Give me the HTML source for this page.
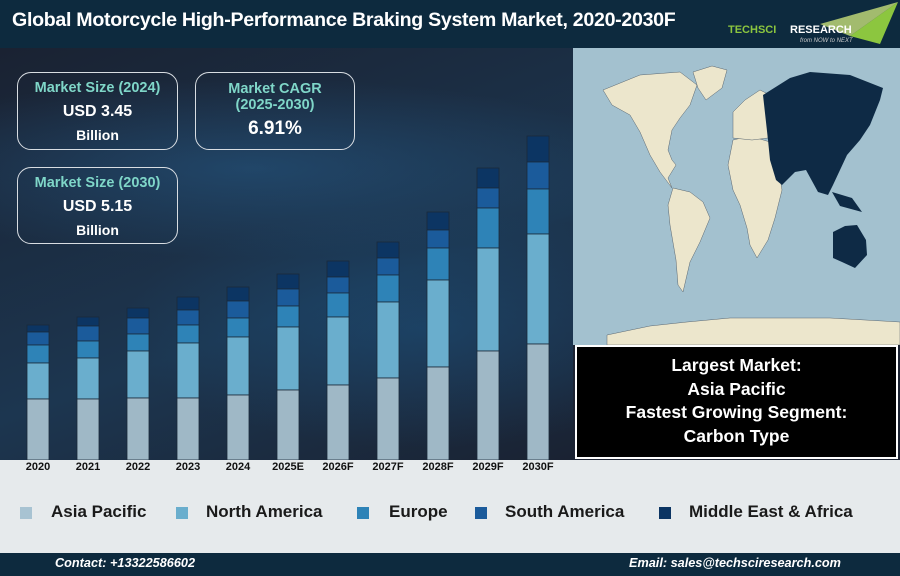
<!DOCTYPE html>
<html><head><style>
body{margin:0;width:900px;height:576px;overflow:hidden;font-family:"Liberation Sans",Arial,sans-serif;position:relative;background:#1b2232}
.hdr{position:absolute;left:0;top:0;width:900px;height:48px;background:#0d2a3e}
.hdr h1{position:absolute;left:12px;top:9px;margin:0;color:#fff;font-size:19.6px;font-weight:bold;letter-spacing:-0.3px}
.chart{position:absolute;left:0;top:48px;width:573px;height:412px;background:radial-gradient(ellipse 400px 90px at 250px 120px,rgba(40,100,150,.45),transparent),radial-gradient(ellipse 300px 120px at 420px 280px,rgba(30,90,140,.4),transparent),linear-gradient(160deg,#1a2232,#1c3650 60%,#1a2232)}
.box{position:absolute;border:1.5px solid #d8dde2;border-radius:14px;text-align:center;color:#fff;font-weight:bold;box-sizing:border-box}
.t{color:#7fd6c8;font-size:14.5px}
.v{font-size:16px}
.yl{position:absolute;top:461px;font-size:11px;font-weight:bold;color:#111;width:50px;text-align:center}
.leg{position:absolute;top:460px;left:0;width:900px;height:93px;background:#e6eaec}
.li{position:absolute;top:502px;font-size:17px;font-weight:bold;color:#1a1a1a}
.sw{position:absolute;top:507px;width:12px;height:12px}
.ftr{position:absolute;left:0;top:553px;width:900px;height:23px;background:#0d2a3e;color:#fff;font-size:12.7px;font-weight:bold;font-style:italic}
</style></head><body>
<div class="hdr"><h1>Global Motorcycle High-Performance Braking System Market, 2020-2030F</h1>
<svg style="position:absolute;left:720px;top:0" width="180" height="48"><polygon points="130,36 178,2 160,44" fill="#8cc63f"/><polygon points="100,24 178,2 130,36" fill="#c8e07a" opacity=".8"/>
<text x="8" y="33" font-size="11" font-weight="bold" fill="#8cc63f" font-family="Liberation Sans">TECHSCI</text><text x="70" y="33" font-size="11" font-weight="bold" fill="#fff" font-family="Liberation Sans">RESEARCH</text><text x="80" y="42" font-size="6" font-style="italic" fill="#ccc" font-family="Liberation Sans">from NOW to NEXT</text></svg></div>
<div class="chart"></div>
<div class="box" style="left:17px;top:72px;width:161px;height:78px"><div class="t" style="margin-top:7px">Market Size (2024)</div><div class="v" style="margin-top:7px">USD 3.45</div><div style="font-size:14px;margin-top:6px">Billion</div></div>
<div class="box" style="left:195px;top:72px;width:160px;height:78px"><div class="t" style="margin-top:8px;line-height:16px">Market CAGR<br>(2025-2030)</div><div style="font-size:19px;margin-top:5px">6.91%</div></div>
<div class="box" style="left:17px;top:167px;width:161px;height:77px"><div class="t" style="margin-top:7px">Market Size (2030)</div><div class="v" style="margin-top:7px">USD 5.15</div><div style="font-size:14px;margin-top:6px">Billion</div></div>
<svg style="position:absolute;left:0;top:0" width="573" height="462">
<g stroke="#1b2a3a" stroke-width="0.8"><g id="b"></g></g></svg>
<svg style="position:absolute;left:573px;top:48px" width="327" height="297" viewBox="573 48 327 297">
<rect x="573" y="48" width="327" height="297" fill="#a3c1cf"/>
<g fill="#ece6cc" stroke="#5a6670" stroke-width="0.5">
<polygon points="603,90 640,75 680,72 697,85 690,105 680,118 672,130 668,150 672,160 676,165 668,178 672,188 660,172 650,155 640,132 630,115 612,105"/>
<polygon points="693,72 712,66 727,70 722,88 706,100 698,88"/>
<polygon points="673,188 690,192 703,202 710,218 700,242 690,262 683,292 678,285 676,260 670,225 668,205"/>
<polygon points="733,140 750,136 770,142 778,165 782,190 775,218 768,240 757,258 750,245 747,228 740,205 733,190 728,165"/>
<polygon points="733,112 745,100 760,90 770,95 768,138 752,140 733,138"/>
<polygon points="607,335 650,326 687,322 730,318 770,318 830,318 900,322 900,345 607,345"/>
</g>
<g fill="#0e2a45">
<polygon points="763,95 790,78 810,72 850,75 883,88 880,100 870,125 860,140 847,155 840,170 833,185 828,195 818,192 806,170 795,172 782,185 776,180 770,160 768,140"/>
<polygon points="833,232 845,226 857,225 866,240 867,255 855,268 842,262 833,258"/>
<polygon points="832,192 852,198 862,212 840,206"/>
</g></svg>
<div style="position:absolute;left:575px;top:345px;width:323px;height:114px;background:#000;border:2px solid #fff;box-sizing:border-box;color:#fff;font-weight:bold;font-size:17.5px;text-align:center;line-height:23.5px;padding-top:7px">Largest Market:<br>Asia Pacific<br>Fastest Growing Segment:<br>Carbon Type</div>
<div class="leg"></div>
<div id="yl"></div>
<div class="sw" style="left:20px;background:#a8c3d2"></div><div class="li" style="left:51px">Asia Pacific</div>
<div class="sw" style="left:176px;background:#6aaecd"></div><div class="li" style="left:206px">North America</div>
<div class="sw" style="left:357px;background:#2e83b7"></div><div class="li" style="left:389px">Europe</div>
<div class="sw" style="left:475px;background:#1b5b9b"></div><div class="li" style="left:505px">South America</div>
<div class="sw" style="left:659px;background:#0c3563"></div><div class="li" style="left:689px">Middle East &amp; Africa</div>
<div class="ftr"><span style="position:absolute;left:55px;top:3px">Contact: +13322586602</span><span style="position:absolute;left:629px;top:3px">Email: sales@techsciresearch.com</span></div>
<script>
var d=[["2020",325,332,345,363,399],["2021",317,326,341,358,399],["2022",308,318,334,351,398],["2023",297,310,325,343,398],["2024",287,301,318,337,395],["2025E",274,289,306,327,390],["2026F",261,277,293,317,385],["2027F",242,258,275,302,378],["2028F",212,230,248,280,367],["2029F",168,188,208,248,351],["2030F",136,162,189,234,344]];
var c=["#0c3563","#1b5b9b","#2e83b7","#6aaecd","#9fb8c6"];
var h="",l="";
d.forEach(function(r,i){var x=27+i*50;var ys=r.slice(1).concat([460]);
for(var k=0;k<5;k++){h+='<rect x="'+x+'" y="'+ys[k]+'" width="22" height="'+(ys[k+1]-ys[k])+'" fill="'+c[k]+'"/>';}
l+='<div class="yl" style="left:'+(x-14)+'px">'+r[0]+'</div>';});
document.getElementById("b").innerHTML=h;document.getElementById("yl").innerHTML=l;
</script>
</body></html>
